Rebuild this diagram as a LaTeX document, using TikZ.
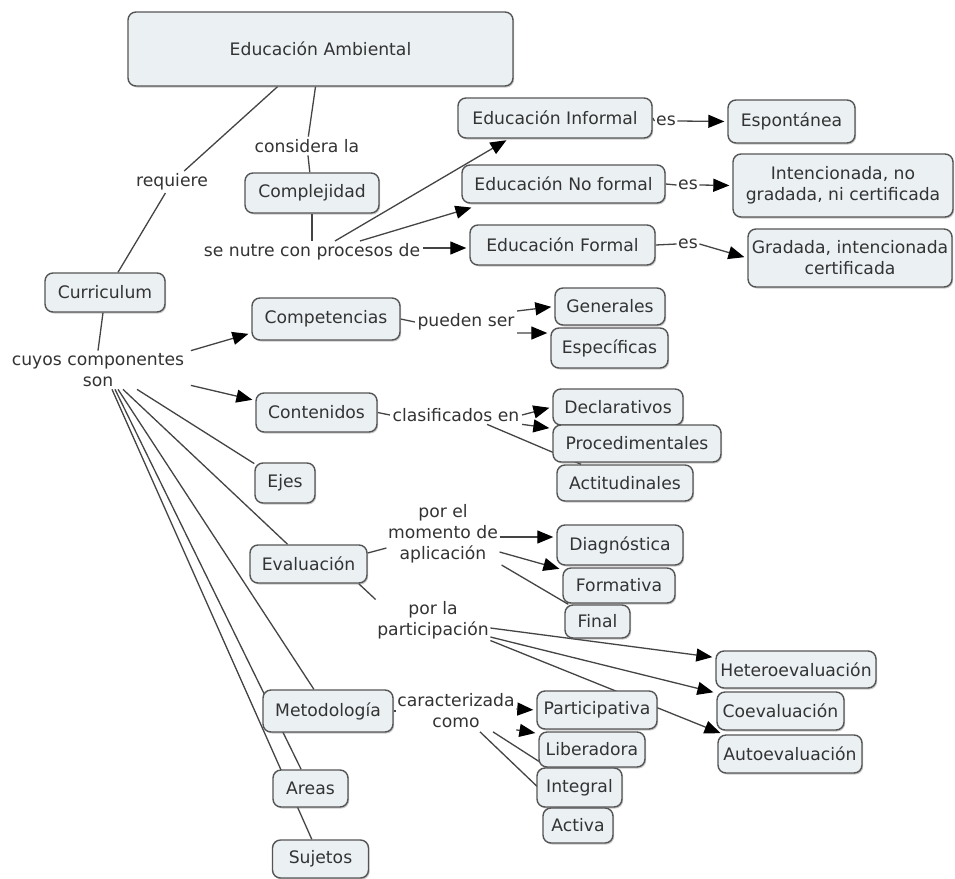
\documentclass[tikz,border=0pt]{standalone}
\usepackage{fontspec}
\setmainfont{DejaVu Sans}
\usetikzlibrary{arrows.meta,backgrounds,calc,shadows}
\definecolor{cfill}{HTML}{EBF0F3}
\definecolor{cborder}{HTML}{555555}
\definecolor{ctext}{HTML}{333333}
\definecolor{cline}{HTML}{444444}
\begin{document}
\begin{tikzpicture}[x=1pt,y=-1pt,
  every node/.style={font=\fontsize{17.2}{21}\selectfont, text=ctext},
  concept/.style={draw=cborder, fill=cfill, line width=1.4pt, rounded corners=8pt,
    inner sep=0pt, align=center,
    drop shadow={shadow xshift=1.2pt, shadow yshift=-1.5pt, opacity=0.35, fill=black!60}},
  phrase/.style={inner sep=2.5pt, align=center},
  link/.style={draw=cline, line width=1.3pt},
  arr/.style={link, -{Triangle[length=16pt,width=13pt,color=black]}, shorten >=3pt}
]
\useasboundingbox (0,0) rectangle (955,878);

% concepts
\node[concept, minimum width=385pt, minimum height=74pt] (EA) at (320.5,49) {Educación Ambiental};
\node[concept, minimum width=134pt, minimum height=40pt] (Comp) at (312,193) {Complejidad};
\node[concept, minimum width=120pt, minimum height=39pt] (Cur) at (105,292.5) {Curriculum};
\node[concept, minimum width=194pt, minimum height=40pt] (EI) at (555,118) {Educación Informal};
\node[concept, minimum width=127pt, minimum height=43pt] (Esp) at (791.5,121.5) {Espontánea};
\node[concept, minimum width=203pt, minimum height=38pt] (ENF) at (563.5,184) {Educación No formal};
\node[concept, minimum width=220pt, minimum height=63pt] (Int) at (843,185.5) {Intencionada, no\\gradada, ni certificada};
\node[concept, minimum width=185pt, minimum height=40pt] (EF) at (562.5,245) {Educación Formal};
\node[concept, minimum width=204pt, minimum height=58pt] (Grad) at (850,258) {Gradada, intencionada\\certificada};
\node[concept, minimum width=148pt, minimum height=42pt] (Compt) at (326,319) {Competencias};
\node[concept, minimum width=121pt, minimum height=39pt] (Cont) at (316.5,412.5) {Contenidos};
\node[concept, minimum width=60pt, minimum height=40pt] (Ejes) at (285,483) {Ejes};
\node[concept, minimum width=110pt, minimum height=37pt] (Gen) at (610,306.5) {Generales};
\node[concept, minimum width=117pt, minimum height=40pt] (Espc) at (609.5,348) {Específicas};
\node[concept, minimum width=130pt, minimum height=36pt] (Decl) at (618,407) {Declarativos};
\node[concept, minimum width=136pt, minimum height=36pt] (Act) at (625,483) {Actitudinales};
\node[concept, minimum width=168pt, minimum height=37pt] (Proc) at (637,443.5) {Procedimentales};
\node[concept, minimum width=65pt, minimum height=33pt] (Final) at (597.5,621.5) {Final};
\node[concept, minimum width=112pt, minimum height=35pt] (Form) at (619,585.5) {Formativa};
\node[concept, minimum width=126pt, minimum height=40pt] (Diag) at (620,545) {Diagnóstica};
\node[concept, minimum width=117pt, minimum height=38pt] (Eval) at (308.5,564) {Evaluación};
\node[concept, minimum width=96pt, minimum height=38pt] (Suj) at (320.5,859) {Sujetos};
\node[concept, minimum width=75pt, minimum height=37pt] (Areas) at (310.5,788.5) {Areas};
\node[concept, minimum width=130pt, minimum height=42pt] (Metod) at (328,711) {Metodología};
\node[concept, minimum width=144pt, minimum height=38pt] (Auto) at (790,754) {Autoevaluación};
\node[concept, minimum width=127pt, minimum height=38pt] (Coev) at (780.5,711) {Coevaluación};
\node[concept, minimum width=160pt, minimum height=37pt] (Het) at (796,669.5) {Heteroevaluación};
\node[concept, minimum width=70pt, minimum height=35pt] (Activa) at (578,825.5) {Activa};
\node[concept, minimum width=85pt, minimum height=39pt] (Integ) at (579.5,787.5) {Integral};
\node[concept, minimum width=106pt, minimum height=35pt] (Lib) at (592,749.5) {Liberadora};
\node[concept, minimum width=120pt, minimum height=38pt] (Partic) at (597,710) {Participativa};

% linking phrases
\node[phrase] (Lreq) at (172,182) {requiere};
\node[phrase] (Lcons) at (307,146) {considera la};
\node[phrase] (Lnutre) at (312,252) {se nutre con procesos de};
\node[phrase, inner sep=1.5pt] (Les1) at (666,121) {es};
\node[phrase, inner sep=1.5pt] (Les2) at (688,185) {es};
\node[phrase, inner sep=1.5pt] (Les3) at (688,244) {es};
\node[phrase] (Lcuyos) at (98,370) {cuyos componentes\\son};
\node[phrase] (Lpueden) at (466,322) {pueden ser};
\node[phrase] (Lclas) at (456,415) {clasificados en};
\node[phrase, inner sep=1.5pt] (Lmom) at (443,534) {por el\\momento de\\aplicación};
\node[phrase, inner sep=1.5pt] (Lpart) at (433,620) {por la\\participación};
\node[phrase, inner sep=1.5pt] (Lcar) at (456,711) {caracterizada\\como};

\begin{scope}[on background layer]
\fill[white] (0,0) rectangle (955,878);
% top
\draw[link] ([xshift=-43pt]EA.south) -- (Lreq);
\draw[link] (Lreq) -- ([xshift=13pt]Cur.north);
\draw[link] ([xshift=-5pt]EA.south) -- (Lcons);
\draw[link] (Lcons) -- (Comp);
\draw[link] (Comp) -- (Lnutre);
\draw[arr] ([xshift=23pt]Lnutre.north) -- ([xshift=-46pt]EI.south);
\draw[arr] ([xshift=48pt]Lnutre.north) -- ([xshift=13pt,yshift=-3pt]ENF.south west);
\draw[arr] ([yshift=4pt]Lnutre.east) -- ([yshift=-3pt]EF.west);
\draw[link] (EI.east) -- (Les1.west);
\draw[arr] (Les1.east) -- (Esp.west);
\draw[link] (ENF.east) -- (Les2.west);
\draw[arr] (Les2.east) -- (Int.west);
\draw[link] (EF.east) -- (Les3.west);
\draw[arr] (Les3.east) -- (Grad.west);
% curriculum
\draw[link] ([xshift=-2pt]Cur.south) -- (Lcuyos.north);
\draw[arr] ([xshift=4pt]Lcuyos.north east) -- ([yshift=-14pt]Compt.west);
\draw[arr] ([xshift=4pt,yshift=4pt]Lcuyos.south east) -- ([yshift=12pt]Cont.west);
\draw[link] ([xshift=39pt]Lcuyos.south) -- (Ejes);
\draw[link] ([xshift=25pt]Lcuyos.south) -- (Eval);
\draw[link] ([xshift=20pt]Lcuyos.south) -- (Metod);
\draw[link] ([xshift=17pt]Lcuyos.south) -- (Areas);
\draw[link] ([xshift=14pt]Lcuyos.south) -- (Suj);
% competencias
\draw[link] (Compt.east) -- (Lpueden.west);
\draw[arr] (Lpueden.north east) -- (Gen.west);
\draw[arr] (Lpueden.south east) -- ([yshift=15pt]Espc.west);
% contenidos
\draw[link] (Cont.east) -- (Lclas.west);
\draw[arr] (Lclas.east) -- (Decl.west);
\draw[arr] (Lclas.south east) -- ([yshift=15pt]Proc.west);
\draw[link] ([xshift=31pt]Lclas.south) -- (Act);
% evaluacion
\draw[link] ([yshift=11pt]Eval.east) -- ([yshift=-14pt]Lmom.west);
\draw[arr] ([yshift=-3pt]Lmom.east) -- ([yshift=8pt]Diag.west);
\draw[arr] ([yshift=-18pt]Lmom.east) -- (Form);
\draw[link] ([xshift=2pt]Lmom.south east) -- (Final);
\draw[link] ([xshift=-9pt]Eval.south east) -- (Lpart.north west);
\draw[arr] ([yshift=-8pt]Lpart.east) -- ([yshift=12pt]Het.west);
\draw[arr] ([yshift=-17pt]Lpart.east) -- ([yshift=18pt]Coev.west);
\draw[arr] (Lpart.south east) -- ([xshift=6pt]Auto.north west);
% metodologia
\draw[link] (Metod.east) -- (Lcar.west);
\draw[arr] ([yshift=2pt]Lcar.east) -- (Partic.west);
\draw[arr] (Lcar.south east) -- ([yshift=16pt]Lib.west);
\draw[link] ([xshift=37pt,yshift=-2pt]Lcar.south) -- (Integ);
\draw[link] ([xshift=24pt,yshift=-2pt]Lcar.south) -- (Activa);
\end{scope}
\end{tikzpicture}
\end{document}
